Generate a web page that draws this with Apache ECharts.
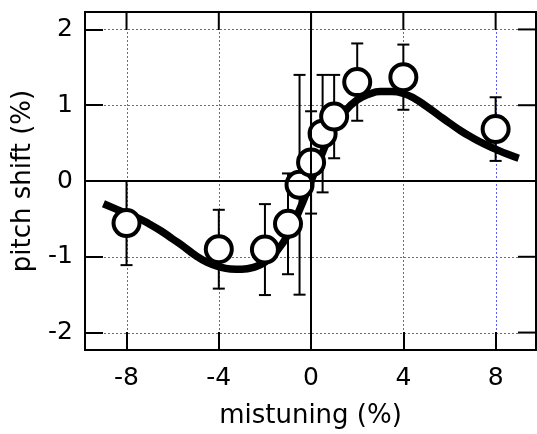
<!DOCTYPE html>
<html><head><meta charset="utf-8">
<script src="https://cdn.jsdelivr.net/npm/echarts@6/dist/echarts.min.js"></script>
<style>html,body{margin:0;padding:0;background:#fff}#c{width:537px;height:434px}</style>
</head><body><div id="c"></div>
<script>
// measured points
const ptX = [-8, -4, -2, -1, -0.5, 0, 0.5, 1, 2, 4, 8];
const ptY = [-0.555, -0.90, -0.905, -0.565, -0.05, 0.245, 0.625, 0.85, 1.305, 1.37, 0.685];
const ptErr = [0.555, 0.52, 0.60, 0.665, 1.45, 0.675, 0.775, 0.55, 0.51, 0.43, 0.42];
// fitted curve
const fitX = [-9, -8.5, -8, -7.5, -7, -6.5, -6, -5.5, -5, -4.5, -4, -3.5, -3, -2.5, -2, -1.5, -1, -0.5, 0, 0.5, 1, 1.5, 2, 2.5, 3, 3.5, 4, 4.5, 5, 5.5, 6, 6.5, 7, 7.5, 8, 8.5, 9];
const fitY = [-0.30, -0.365, -0.43, -0.49, -0.57, -0.66, -0.765, -0.87, -0.985, -1.075, -1.13, -1.16, -1.165, -1.14, -1.07, -0.93, -0.71, -0.38, 0, 0.38, 0.71, 0.93, 1.07, 1.145, 1.18, 1.18, 1.155, 1.085, 0.985, 0.875, 0.765, 0.66, 0.57, 0.49, 0.42, 0.355, 0.30];
const xTicks = [-8, -4, 0, 4, 8];
const yTicks = [-2, -1, 0, 1, 2];
const xTitle = 'mistuning (%)';
const yTitle = 'pitch shift (%)';

const FONT = '"DejaVu Sans", Verdana, sans-serif';
const chart = echarts.init(document.getElementById('c'), null, {renderer: 'canvas'});
const axLine = {show: true, onZero: false, lineStyle: {color: '#000', width: 2}};
function mkTick(vals) {
  return {show: true, inside: true, length: 18, customValues: vals, lineStyle: {color: '#000', width: 2}};
}
// grid line definitions: [xValue, yValue, kind] kind 0 = vertical grid, 1 = horizontal grid
const gridData = xTicks.filter(v => v !== 0).map(v => [v, 0, 0])
  .concat(yTicks.filter(v => v !== 0).map(v => [0, v, 1]));
// mirrored ticks: kind 2 = top edge tick, 3 = right edge tick
const mirrorData = xTicks.map(v => [v, 0, 2]).concat(yTicks.map(v => [0, v, 3]));
const zeroStyle = {color: '#000', width: 2, type: 'solid'};

const errData = ptX.map((x, i) => [x, ptY[i], ptErr[i]]);
chart.setOption({
  animation: false,
  backgroundColor: '#fff',
  grid: {left: 85, right: 1, top: 12, bottom: 82, show: true, borderColor: '#000', borderWidth: 2,
    backgroundColor: 'transparent'},
  xAxis: {type: 'value', min: -9.8, max: 9.75, position: 'bottom', z: 10, axisLine: axLine, axisTick: mkTick(xTicks),
    axisLabel: {customValues: xTicks, fontSize: 25, color: '#000', fontFamily: FONT, margin: 16},
    splitLine: {show: false},
    name: xTitle, nameLocation: 'middle', nameGap: 53,
    nameTextStyle: {fontSize: 26, color: '#000', fontFamily: FONT}},
  yAxis: {type: 'value', min: -2.23, max: 2.23, position: 'left', z: 10, axisLine: axLine, axisTick: mkTick(yTicks),
    axisLabel: {customValues: yTicks, fontSize: 25, color: '#000', fontFamily: FONT, margin: 12},
    splitLine: {show: false},
    name: yTitle, nameLocation: 'middle', nameGap: 49,
    nameTextStyle: {fontSize: 26, color: '#000', fontFamily: FONT}},
  series: [
    {
      // dotted blue grid lines drawn as short solid segments at the tick values
      type: 'custom', z: 1, silent: true, data: gridData,
      renderItem: function (params, api) {
        const cs = params.coordSys;
        const o = api.value(2);
        const st = {stroke: '#5a5aff', lineWidth: 1, lineDash: null};
        const kids = [];
        if (o === 0) {
          const px = Math.round(api.coord([api.value(0), 0])[0]) + 0.5;
          for (let y = cs.y + 20; y < cs.y + cs.height - 18; y += 4) {
            kids.push({type: 'line', shape: {x1: px, y1: y, x2: px, y2: y + 2}, style: st});
          }
        } else {
          const py = Math.round(api.coord([0, api.value(1)])[1]) + 0.5;
          for (let x = cs.x + 19; x < cs.x + cs.width - 18; x += 4) {
            kids.push({type: 'line', shape: {x1: x, y1: py, x2: x + 2, y2: py}, style: st});
          }
        }
        return {type: 'group', children: kids};
      },
      markLine: {silent: true, symbol: 'none', label: {show: false}, animation: false,
        data: [{xAxis: 0, lineStyle: zeroStyle}, {yAxis: 0, lineStyle: zeroStyle}]}
    },
    {
      // ticks mirrored on the top and right edges of the frame
      type: 'custom', z: 6, silent: true, data: mirrorData,
      renderItem: function (params, api) {
        const cs = params.coordSys;
        const o = api.value(2);
        const st = {stroke: '#000', lineWidth: 2, lineDash: null};
        if (o === 2) {
          const px = api.coord([api.value(0), 0])[0];
          return {type: 'line', shape: {x1: px, y1: cs.y, x2: px, y2: cs.y + 18}, style: st};
        }
        const py = api.coord([0, api.value(1)])[1];
        return {type: 'line', shape: {x1: cs.x + cs.width - 18, y1: py, x2: cs.x + cs.width, y2: py}, style: st};
      }
    },
    {
      type: 'custom', z: 2, silent: true,
      data: errData,
      renderItem: function (params, api) {
        const x = api.value(0), y = api.value(1), e = api.value(2);
        const top = api.coord([x, y + e]);
        const bot = api.coord([x, y - e]);
        const hw = 6;
        const st = {stroke: '#000', lineWidth: 2};
        return {type: 'group', children: [
          {type: 'line', shape: {x1: top[0], y1: top[1], x2: bot[0], y2: bot[1]}, style: st},
          {type: 'line', shape: {x1: top[0] - hw, y1: top[1], x2: top[0] + hw, y2: top[1]}, style: st},
          {type: 'line', shape: {x1: bot[0] - hw, y1: bot[1], x2: bot[0] + hw, y2: bot[1]}, style: st}
        ]};
      }
    },
    {
      type: 'line', z: 3, silent: true, smooth: 0.5, showSymbol: false,
      data: fitX.map((x, i) => [x, fitY[i]]),
      lineStyle: {color: '#000', width: 7.5}
    },
    {
      type: 'scatter', z: 4, silent: true,
      data: ptX.map((x, i) => [x, ptY[i]]),
      symbol: 'circle', symbolSize: 26,
      itemStyle: {color: '#fff', borderColor: '#000', borderWidth: 4, opacity: 1}
    }
  ]
});
</script></body></html>
